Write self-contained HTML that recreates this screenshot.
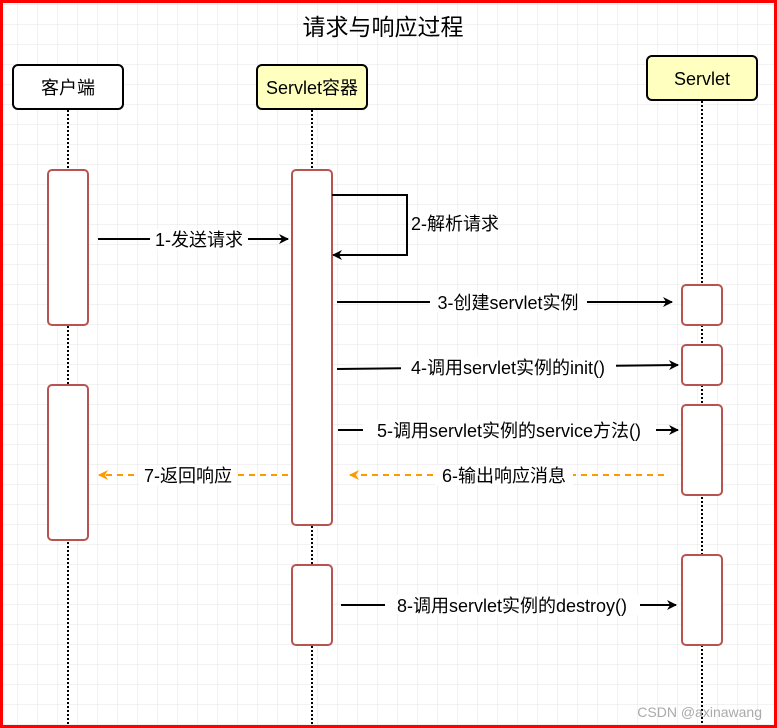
<!DOCTYPE html>
<html><head><meta charset="utf-8"><style>
html,body{margin:0;padding:0;background:#fff;}
svg{display:block;}
text{font-family:"Liberation Sans","Noto Sans CJK SC",sans-serif;}
</style></head><body>
<svg width="777" height="728" viewBox="0 0 777 728" xmlns="http://www.w3.org/2000/svg">
<defs>
<pattern id="g" x="-2" y="5" width="20" height="20" patternUnits="userSpaceOnUse">
<path d="M20 0V20M0 20H20" fill="none" stroke="#e4e4e4" stroke-width="1"/>
</pattern>
<marker id="a" markerWidth="10" markerHeight="10" refX="9" refY="5" orient="auto" markerUnits="userSpaceOnUse"><path d="M0,0 L10,5 L0,10 L3,5z" fill="#000"/></marker>
<marker id="o" markerWidth="10" markerHeight="10" refX="9" refY="5" orient="auto" markerUnits="userSpaceOnUse"><path d="M0,0 L10,5 L0,10 L3,5z" fill="#ff9900"/></marker>
</defs>
<rect width="777" height="728" fill="#fff"/>
<rect width="777" height="728" fill="url(#g)"/>
<text x="383" y="35" font-size="23" text-anchor="middle">请求与响应过程</text>
<!-- lifelines -->
<g stroke="#000" stroke-width="2" stroke-dasharray="2,2">
<line x1="68" y1="110" x2="68" y2="728"/>
<line x1="312" y1="110" x2="312" y2="728"/>
<line x1="702" y1="101" x2="702" y2="728"/>
</g>
<!-- headers -->
<rect x="13" y="65" width="110" height="44" rx="5" fill="#fff" stroke="#000" stroke-width="2"/>
<text x="68" y="94" font-size="18" text-anchor="middle">客户端</text>
<rect x="257" y="65" width="110" height="44" rx="5" fill="#ffffc0" stroke="#000" stroke-width="2"/>
<text x="312" y="94" font-size="18" text-anchor="middle">Servlet容器</text>
<rect x="647" y="56" width="110" height="44" rx="5" fill="#ffffc0" stroke="#000" stroke-width="2"/>
<text x="702" y="85" font-size="18" text-anchor="middle">Servlet</text>
<!-- activations -->
<g fill="#fff" stroke="#b85450" stroke-width="2">
<rect x="48" y="170" width="40" height="155" rx="4"/>
<rect x="48" y="385" width="40" height="155" rx="4"/>
<rect x="292" y="170" width="40" height="355" rx="4"/>
<rect x="292" y="565" width="40" height="80" rx="4"/>
<rect x="682" y="285" width="40" height="40" rx="4"/>
<rect x="682" y="345" width="40" height="40" rx="4"/>
<rect x="682" y="405" width="40" height="90" rx="4"/>
<rect x="682" y="555" width="40" height="90" rx="4"/>
</g>
<!-- arrows -->
<g stroke="#000" stroke-width="2" fill="none">
<line x1="98" y1="239" x2="288" y2="239" marker-end="url(#a)"/>
<polyline points="332,195 407,195 407,255 333,255" marker-end="url(#a)"/>
<line x1="337" y1="302" x2="672" y2="302" marker-end="url(#a)"/>
<line x1="337" y1="369" x2="678" y2="365" marker-end="url(#a)"/>
<line x1="338" y1="430" x2="678" y2="430" marker-end="url(#a)"/>
<line x1="341" y1="605" x2="676" y2="605" marker-end="url(#a)"/>
</g>
<g stroke="#ff9900" stroke-width="2" stroke-dasharray="6,5" fill="none">
<line x1="664" y1="475" x2="350" y2="475" marker-end="url(#o)"/>
<line x1="288" y1="475" x2="99" y2="475" marker-end="url(#o)"/>
</g>
<!-- labels -->
<g font-size="18">
<rect x="150" y="229" width="98" height="20" fill="#fff"/>
<text x="199" y="246" text-anchor="middle">1-发送请求</text>
<text x="411" y="230">2-解析请求</text>
<rect x="430" y="292" width="157" height="20" fill="#fff"/>
<text x="508" y="309" text-anchor="middle">3-创建servlet实例</text>
<rect x="401" y="357" width="215" height="20" fill="#fff"/>
<text x="508" y="374" text-anchor="middle">4-调用servlet实例的init()</text>
<rect x="363" y="420" width="293" height="20" fill="#fff"/>
<text x="509" y="437" text-anchor="middle">5-调用servlet实例的service方法()</text>
<rect x="435" y="465" width="138" height="20" fill="#fff"/>
<text x="504" y="482" text-anchor="middle">6-输出响应消息</text>
<rect x="139" y="465" width="98" height="20" fill="#fff"/>
<text x="188" y="482" text-anchor="middle">7-返回响应</text>
<rect x="385" y="595" width="255" height="20" fill="#fff"/>
<text x="512" y="612" text-anchor="middle">8-调用servlet实例的destroy()</text>
</g>
<text x="762" y="717" font-size="14" fill="#aaa" text-anchor="end">CSDN @axinawang</text>
<rect x="1.5" y="1.5" width="774" height="725" fill="none" stroke="#ff0000" stroke-width="3"/>
</svg>
</body></html>
